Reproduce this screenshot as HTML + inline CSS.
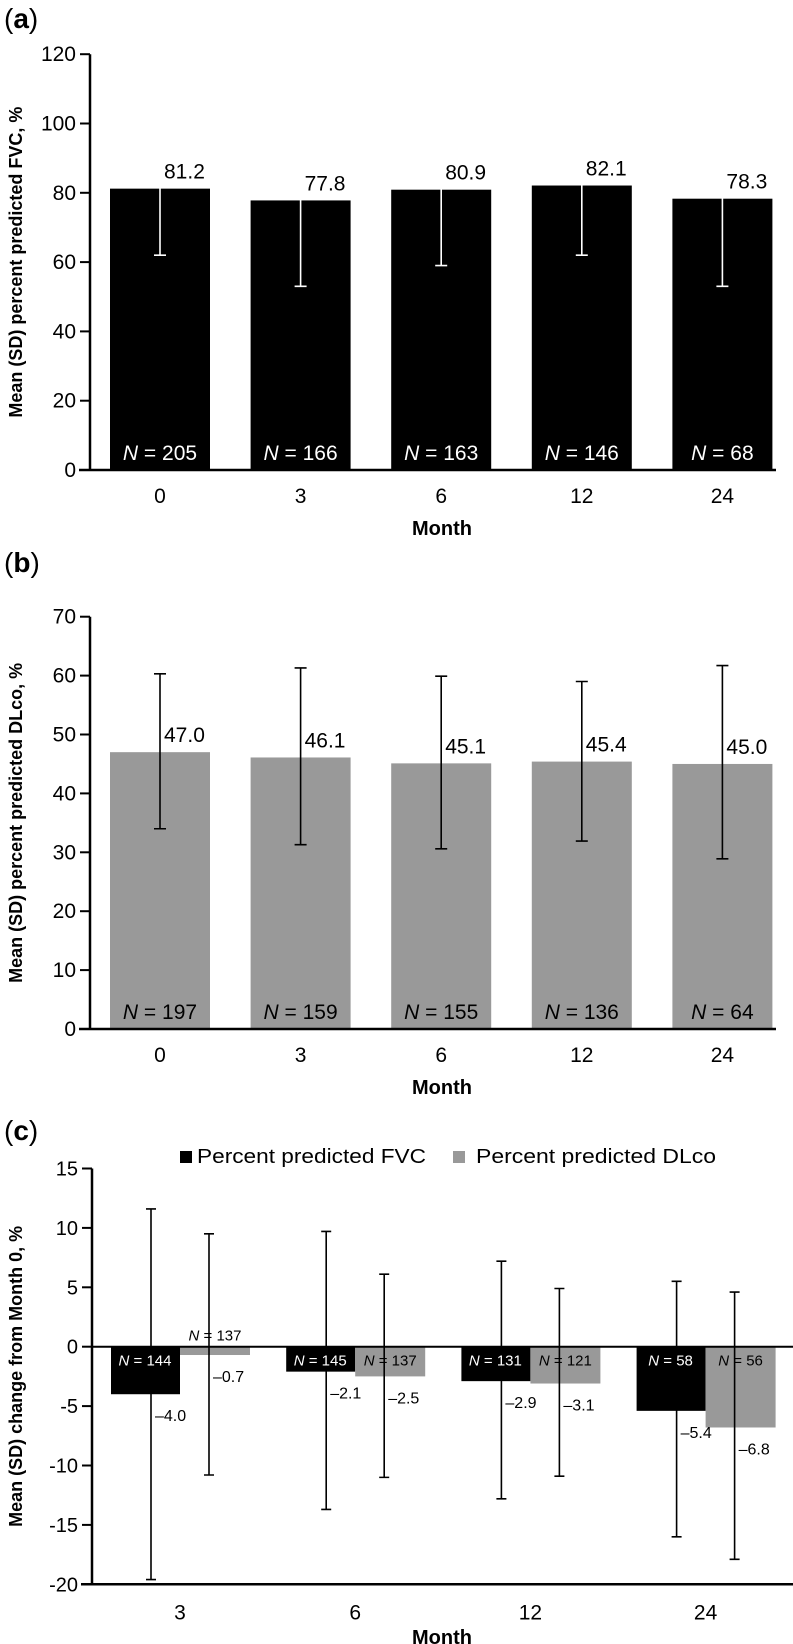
<!DOCTYPE html>
<html><head><meta charset="utf-8"><style>
html,body{margin:0;padding:0;background:#fff}
svg{display:block;font-family:"Liberation Sans",Arial,sans-serif}
</style></head><body>
<svg id="c" width="793" height="1644" viewBox="0 0 793 1644" xmlns="http://www.w3.org/2000/svg"></svg>
<script>
const monthsAB = ["0","3","6","12","24"];
const fvcMean = [81.2,77.8,80.9,82.1,78.3];
const fvcLow = [62,53,59,62,53];
const fvcHigh = [100,103,103,102,103];
const fvcN = ["205","166","163","146","68"];
const fvcTicks = [0,20,40,60,80,100,120];
const dlMean = [47.0,46.1,45.1,45.4,45.0];
const dlLow = [34,31.3,30.6,31.9,28.9];
const dlHigh = [60.3,61.3,59.9,59.0,61.7];
const dlN = ["197","159","155","136","64"];
const dlTicks = [0,10,20,30,40,50,60,70];
const monthsC = ["3","6","12","24"];
const chFvc = [-4.0,-2.1,-2.9,-5.4];
const chFvcLow = [-19.6,-13.7,-12.8,-16.0];
const chFvcHigh = [11.6,9.7,7.2,5.5];
const chFvcN = ["144","145","131","58"];
const chDl = [-0.7,-2.5,-3.1,-6.8];
const chDlLow = [-10.8,-11.0,-10.9,-17.9];
const chDlHigh = [9.5,6.1,4.9,4.6];
const chDlN = ["137","137","121","56"];
const chTicks = [-20,-15,-10,-5,0,5,10,15];

const svg=document.getElementById('c');
const NS="http://www.w3.org/2000/svg";
function mk(tag,attrs,parent){const e=document.createElementNS(NS,tag);for(const k in attrs)e.setAttribute(k,attrs[k]);(parent||svg).appendChild(e);return e;}
function txt(x,y,s,size,anchor,parent,weight,fill){const t=mk('text',{x:x,y:y,'font-size':size,'text-anchor':anchor||'middle',fill:fill||'#000'},parent);if(weight)t.setAttribute('font-weight',weight);t.textContent=s;return t;}
function nlabel(x,y,n,size,parent,fill){const t=mk('text',{x:x,y:y,'font-size':size,'text-anchor':'middle',fill:fill},parent);const a=document.createElementNS(NS,'tspan');a.setAttribute('font-style','italic');a.textContent='N';t.appendChild(a);t.appendChild(document.createTextNode(' = '+n));return t;}

function panelAB(opt){
  const g=mk('g',{});
  
  
  const y=v=>opt.y0-(v-0)*opt.k;
  const xc=i=>160+i*140.6;
  const lab=txt(4,opt.labY,'',28,'start',g);lab.innerHTML='(<tspan font-weight="bold">'+opt.letter+'</tspan>)';
  
  const ytop=y(opt.ticks[opt.ticks.length-1]);
  mk('line',{x1:90,y1:ytop,x2:90,y2:opt.y0,stroke:'#000','stroke-width':2.5},g);
  opt.ticks.forEach(t=>{
    mk('line',{x1:80,y1:y(t),x2:90,y2:y(t),stroke:'#000','stroke-width':2},g);
    const tl=txt(76,y(t)+7,String(t),21,'end',g);
    
  });
  opt.mean.forEach((m,i)=>{
    const b=mk('rect',{x:xc(i)-50,y:y(m),width:100,height:opt.y0-y(m),fill:opt.fill},g);
    
    const e=mk('path',{d:`M${xc(i)} ${y(opt.low[i])}V${y(opt.high[i])}M${xc(i)-6} ${y(opt.low[i])}H${xc(i)+6}M${xc(i)-6} ${y(opt.high[i])}H${xc(i)+6}`,stroke:opt.err,'stroke-width':1.6,fill:'none'},g);
    
    const v=txt(xc(i)+4,y(m)-10,m.toFixed(1),21,'start',g);
    
    const n=nlabel(xc(i),opt.y0-10,opt.n[i],21,g,opt.nfill);
    
    const xl=txt(xc(i),opt.y0+33,monthsAB[i],21,'middle',g);
    
  });
  mk('line',{x1:79,y1:opt.y0,x2:776,y2:opt.y0,stroke:'#000','stroke-width':2.5},g);
  const xt=txt(442,opt.y0+65,'Month',20,'middle',g,'bold');
  
  const cy=(ytop+opt.y0)/2;
  const yt=txt(0,0,opt.ytitle,18,'middle',g,'bold');
  yt.setAttribute('transform',`translate(22,${cy}) rotate(-90)`);
  
}
panelAB({name:'panel-a-fvc-chart',letter:'a',labY:28,y0:470,k:3.465,ticks:fvcTicks,mean:fvcMean,low:fvcLow,high:fvcHigh,n:fvcN,fill:'#000',err:'#fff',nfill:'#fff',ytitle:'Mean (SD) percent predicted FVC, %'});
panelAB({name:'panel-b-dlco-chart',letter:'b',labY:572,y0:1029,k:5.89,ticks:dlTicks,mean:dlMean,low:dlLow,high:dlHigh,n:dlN,fill:'#999',err:'#000',nfill:'#000',ytitle:'Mean (SD) percent predicted DLco, %'});

// panel c
(function(){
  const g=mk('g',{});
  
  
  const zero=1346.7,k=11.88;
  const y=v=>zero-v*k;
  const gc=i=>180+i*175.2;
  const lab=txt(4,1140,'',28,'start',g);lab.innerHTML='(<tspan font-weight="bold">c</tspan>)';
  
  // legend
  const l1=mk('g',{},g);
  mk('rect',{x:180,y:1151,width:12,height:12,fill:'#000'},l1);
  const lt1=txt(197,1163,'Percent predicted FVC',20,'start',l1);lt1.setAttribute('textLength','229');lt1.setAttribute('lengthAdjust','spacingAndGlyphs');
  const l2=mk('g',{},g);
  mk('rect',{x:453,y:1151,width:12,height:12,fill:'#999'},l2);
  const lt2=txt(476,1163,'Percent predicted DLco',20,'start',l2);lt2.setAttribute('textLength','240');lt2.setAttribute('lengthAdjust','spacingAndGlyphs');
  mk('line',{x1:92,y1:y(15),x2:92,y2:y(-20),stroke:'#000','stroke-width':2.5},g);
  chTicks.forEach(t=>{
    mk('line',{x1:82,y1:y(t),x2:92,y2:y(t),stroke:'#000','stroke-width':2},g);
    const tl=txt(78,y(t)+7,String(t),20,'end',g);
    
  });
  monthsC.forEach((m,i)=>{
    const c=gc(i);
    const b1=mk('rect',{x:c-69,y:zero,width:69,height:-chFvc[i]*k,fill:'#000'},g);
    
    const b2=mk('rect',{x:c,y:zero,width:70,height:-chDl[i]*k,fill:'#999'},g);
    
    const e1x=c-29,e2x=c+29;
    const e1=mk('path',{d:`M${e1x} ${y(chFvcLow[i])}V${y(chFvcHigh[i])}M${e1x-5} ${y(chFvcLow[i])}H${e1x+5}M${e1x-5} ${y(chFvcHigh[i])}H${e1x+5}`,stroke:'#000','stroke-width':1.6,fill:'none'},g);
    
    const e2=mk('path',{d:`M${e2x} ${y(chDlLow[i])}V${y(chDlHigh[i])}M${e2x-5} ${y(chDlLow[i])}H${e2x+5}M${e2x-5} ${y(chDlHigh[i])}H${e2x+5}`,stroke:'#000','stroke-width':1.6,fill:'none'},g);
    
    const n1=nlabel(c-35,zero+19,chFvcN[i],15,g,'#fff');
    
    const dlSmall=-chDl[i]*k<20;
    const n2=nlabel(c+35,dlSmall?zero-6:zero+19,chDlN[i],15,g,'#000');
    
    const v1=txt(e1x+4,y(chFvc[i])+27,'\u2013'+Math.abs(chFvc[i]).toFixed(1),16,'start',g);
    
    const v2=txt(e2x+4,y(chDl[i])+27,'\u2013'+Math.abs(chDl[i]).toFixed(1),16,'start',g);
    
    const xl=txt(c,y(-20)+35,m,21,'middle',g);
    
  });
  mk('line',{x1:92,y1:zero,x2:793,y2:zero,stroke:'#000','stroke-width':2},g);
  mk('line',{x1:81,y1:y(-20),x2:793,y2:y(-20),stroke:'#000','stroke-width':2.5},g);
  const xt=txt(442,1644,'Month',20,'middle',g,'bold');
  
  const yt=txt(0,0,'Mean (SD) change from Month 0, %',18,'middle',g,'bold');
  yt.setAttribute('transform',`translate(22,${(y(15)+y(-20))/2}) rotate(-90)`);
  
})();
</script>
</body></html>
